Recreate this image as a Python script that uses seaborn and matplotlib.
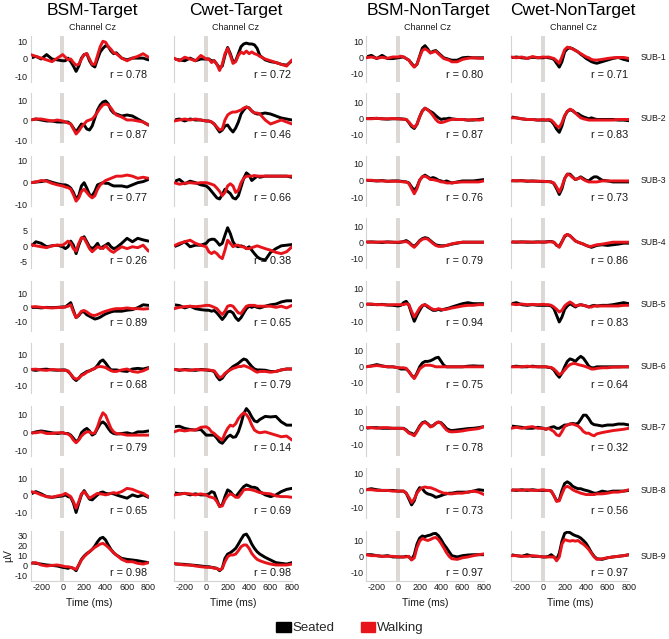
import matplotlib
matplotlib.use("Agg")
import matplotlib.pyplot as plt
import matplotlib.transforms as mtransforms
from matplotlib.patches import Patch
import seaborn as sns

# ---------------- data ----------------
times = [-300, -250, -200, -150, -100, -50, 0,
         25, 50, 75, 100, 125, 150, 175, 200, 225, 250,
         275, 300, 325, 350, 375, 400, 425, 450, 475, 500,
         550, 600, 650, 700, 750, 800]

col_titles = ["BSM-Target", "Cwet-Target", "BSM-NonTarget", "Cwet-NonTarget"]
subjects = ["SUB-1", "SUB-2", "SUB-3", "SUB-4", "SUB-5", "SUB-6", "SUB-7", "SUB-8", "SUB-9"]

r_bsm_t = [0.78, 0.87, 0.77, 0.26, 0.89, 0.68, 0.79, 0.65, 0.98]
r_cwet_t = [0.72, 0.46, 0.66, 0.38, 0.65, 0.79, 0.14, 0.69, 0.98]
r_bsm_n = [0.80, 0.87, 0.76, 0.79, 0.94, 0.75, 0.78, 0.73, 0.97]
r_cwet_n = [0.71, 0.83, 0.73, 0.86, 0.83, 0.64, 0.32, 0.56, 0.97]

# BSM-Target
bsm_t_seat_1 = [0.5,1.5,0,2.5,0,-0.5,-1, -1,0.5,-1.5,-4,-7,-4,0.5,2.5,3,-1, -3.5,-4.5,0,4,6,7.5,7,4.5,3,3.5, 0.5,-0.5,0.5,0.5,0.5,-0.5]
bsm_t_walk_1 = [2.5,1.5,0.5,-0.5,-1.5,0.5,2.5, 1,-0.5,0,-2,-3.5,-3,0,2.5,3,0, -3,-3,2,7,10,9.5,7,5.5,3.5,3, 0.5,-1,0.5,1.5,3,1]
bsm_t_seat_2 = [0,0.5,0,-0.5,-0.5,-1,-1, -1,-1,-2,-4,-6,-4,-2,-2.5,-4.5,-5, -3,1,5,7.5,9,9.5,8,5,3.5,3, 2,2.5,2,0.5,-1,-2.5]
bsm_t_walk_2 = [0,0.5,0.5,0,-0.5,0,-0.5, -1,-1.5,-2,-4.5,-7,-5.5,-3.5,-2,-0.5,0, 0.5,2,4,6,7.5,8,7.5,6,4,2.5, 1.5,0,0,-0.5,-1,-2.5]
bsm_t_seat_3 = [0,0.3,0.5,1,0.2,-0.5,-1, -1,-1.5,-2.5,-4.5,-7.5,-6,-1.5,0,-2.5,-5.5, -6,-4,-1,-0.5,0,-0.3,-0.3,-1,-1.5,-1.5, -1.5,-2,-1,0,0.5,1.5]
bsm_t_walk_3 = [0,0.3,1,0.7,-0.3,-1,-1.5, -2,-2.3,-3,-5.5,-8.5,-7,-4,-3,-4.5,-6, -7,-6,-3,-1,0,1,1.5,2,2.5,3, 3,3.5,3,2,2.5,2]
bsm_t_seat_4 = [-0.2,1.4,0.9,-0.2,0.1,0.3,-0.2, -0.8,-0.2,1.6,0.3,-2.4,0.3,2.5,3,1.4,-0.2, -0.8,-0.2,0.9,-0.7,-0.2,0.3,0.9,-0.2,-0.8,-0.5, 0.9,2.5,1.4,2.5,2,1.6]
bsm_t_walk_4 = [0.5,0.1,-0.2,-0.5,0.1,0.3,0.3, 0.9,1.6,0.9,-0.8,-1.6,0.9,2.7,2.5,0.9,-0.8, -1.8,-1,-0.2,-0.5,-0.8,0.1,-0.8,-1.6,-2,-1.3, -0.2,-0.8,-0.2,-0.5,0.3,-1.6]
bsm_t_seat_5 = [0,0.2,-0.2,0.2,0,0.2,0.5, 0.5,2,3.5,-2,-7,-5.5,-3,-3,-5,-6, -7,-8,-7.5,-6.7,-5.5,-4.4,-3.7,-3,-2.5,-2.5, -2.5,-1.8,-1.4,0,2,1.6]
bsm_t_walk_5 = [0.5,0.7,0.2,0,-0.2,0,0.2, 0.5,1,2,-3,-7,-5,-2.5,-2,-3,-4.4, -5.3,-5.5,-4.8,-4,-3.2,-2.5,-2,-1.4,-1,-0.7, -0.7,-0.2,-0.7,-0.7,-1,-0.7]
bsm_t_seat_6 = [0.2,-0.3,0.3,0.5,0,-0.2,0, 0,-1,-2.8,-5.4,-6.9,-5.4,-3.2,-2.2,-1,-0.6, 0.3,1,3,5.5,6.5,4.5,2,0,0,0, -0.6,-1,0.6,1,0.6,1.5]
bsm_t_walk_6 = [0.3,0.5,0,-0.3,0.3,0,-0.2, -0.3,-0.6,-2.8,-5,-6,-5.4,-3.6,-2.8,-1.5,-0.6, 0.2,1,2,2.2,2,1.5,0.5,-0.5,-1,-1, 0,0.6,-1,-1.5,-0.6,1]
bsm_t_seat_7 = [-0.4,0.5,1,0.5,0,-0.4,0, -0.4,-0.4,-1.3,-3,-5,-3.6,0,1.5,2.4,1, -1.3,-0.4,2.4,5,6,4.7,2.4,0.5,-0.4,-0.7, -0.4,0,-0.7,0.5,0.5,1]
bsm_t_walk_7 = [0,0,0.5,-0.4,-0.4,0,0, -0.4,-0.7,-1.8,-4,-5.5,-4,-1.8,-0.4,0.5,0.5, -0.4,0,3.3,7.8,11,9.6,6,2.4,0.5,-0.4, -0.7,-1.3,-1.3,-1.3,-1.3,-1.3]
bsm_t_seat_8 = [0.8,2.3,1,-0.6,-1,-0.6,-0.2, 0.4,-0.6,-1,-4.4,-9.8,-4.4,0.4,2.9,0.4,-2.1, -2.5,-1,0.4,1.7,2.1,1.3,1,1.3,1,0.4, -0.6,-1.5,0.4,-0.6,0.4,-1]
bsm_t_walk_8 = [2.3,1.7,0.4,-0.6,-1,-0.2,0.4, 1.3,0.4,-0.6,-3.5,-7.3,-3.5,1,2.3,0.4,-1.5, -0.6,0.4,1.3,1,0.8,0.4,0.8,1.3,1.7,1.3, 2.3,4.2,3.6,2.3,1.3,-0.6]
bsm_t_seat_9 = [3,2.3,1.6,0.7,0.3,-0.3,-1.6, -2,-2.6,-1.6,-2.6,-4.9,0.7,6.2,9.5,12,13.7, 16,19.3,23.5,26.8,27.8,25.2,20.3,16,12.7,10.5, 7.2,6.2,5.6,4.9,3.9,3]
bsm_t_walk_9 = [2.3,3,0.7,-0.3,0.3,0.7,-0.3, -1,-1,-1.6,-2.6,-3.6,0.7,5.6,8.8,11.4,13.7, 16,18,19.6,21.2,21.9,20.3,18,15.4,12.7,10.5, 6.2,3.9,3.9,2.3,1.6,3]

# Cwet-Target
cwet_t_seat_1 = [0,-0.5,-1,0.5,-1,0,0, 0,-1,-1,-3,-5,-4,2,6.5,3,-1.5, -1,3,7,8.5,9,8.5,8.5,8,6,2, -0.5,-1.5,-2,-3,-3.5,-1]
cwet_t_walk_1 = [0.5,-1,1,0,-1,2,0, 0,-2,-1,-3,-6.5,-3,3,6,2,-2.5, -1.5,2,4,3,4.5,3,4,3,2.5,1.5, 0,-1,-2,-3,-4,-0.5]
cwet_t_seat_2 = [0,0.5,-0.5,0.5,0,0,-0.5, -0.5,-1,-2,-4,-6,-5,-3,-2.5,-4.5,-6, -4,-1,3,5,6.5,6,4.5,3.5,3,3, 3.5,3,2,1,0.5,0]
cwet_t_walk_2 = [-0.5,0,0.5,0,0.5,0,-0.5, -0.5,-1,-2,-3.5,-5,-4.5,0,2.5,3.5,4, 4,4.5,5,6,6.5,6,4.5,3.5,3.5,3, 0,-2,-1,0,-1,-2]
cwet_t_seat_3 = [0.5,1.5,-0.5,0.7,0,-1,-1.5, -2.5,-4,-5.5,-7,-7.5,-5.5,-3,-4,-5,-7, -7.5,-6,-2,2,4.5,3.5,1,2,3,2.5, 3,3,3,3,3,2.5]
cwet_t_walk_3 = [0,-0.7,-0.3,0,-0.3,0,0, -0.3,-0.7,-1.2,-2.5,-4,-6,-4.5,-1.5,-0.5,-1.5, -4.5,-3.5,0,2,3,3,3,3.3,3,3, 3,3,3,3,3,3]
cwet_t_seat_4 = [-0.2,0.5,1.4,-0.2,0.3,0.3,0.9, 1.9,2.2,2.2,1.4,0.3,0.9,3.5,5.9,4,1.4, 0.1,-0.2,0.1,-0.2,-0.8,-0.2,-1.3,-2.4,-3.4,-4, -4.5,-2,-0.8,0.1,0.3,0.5]
cwet_t_walk_4 = [0.1,0.9,1.4,1.9,0.9,0.3,-0.2, -1.8,-2.4,-1.8,-2.4,-3.4,-4,-1.3,1.9,0.9,-0.2, 0.3,0.3,-0.2,-0.2,-0.8,-0.8,-0.5,-0.2,0.1,-0.2, -0.8,-1.3,-2,-2.4,-1.8,-0.2]
cwet_t_seat_5 = [2,1.5,-0.2,1,-0.7,-1.4,-1.8, -1.8,-2.5,-2,-3.7,-6,-8.3,-6,-3,-2.5,-3.7, -7,-9,-7,-3.7,-0.7,1,0.2,1,0.2,-0.2, 1,2,2.5,4,4.8,4.8]
cwet_t_walk_5 = [-0.7,0.2,0.7,1,0.7,1,1.6, 1.6,1,0.2,-0.7,-3,-4.8,-2.5,1,1.6,1, -1.4,-3.7,-4.1,-1.4,1,1.6,1.6,1.6,1,1, 1,1,0.2,1,-0.2,1.6]
cwet_t_seat_6 = [0.5,-0.3,0.3,0,-0.3,0.3,0, -0.3,-0.5,-1,-4.3,-6.5,-5.4,-2.8,-1,0.6,2.2, 3.2,4.3,5.8,7.1,6.5,4.3,2.2,0.6,0,0, -0.2,-1,-1,0,0.6,0.6]
cwet_t_walk_6 = [0.3,0,0,-0.3,0.3,0,0, 0,-0.3,-0.6,-2.8,-5,-4.3,-2.2,-1,0,1, 1.5,2.2,2.2,2.8,2.2,1.5,0.6,-0.6,-1.5,-1, -1,-1.5,-1,0,0.6,0.6]
cwet_t_seat_7 = [3.3,3.6,2.4,1.8,1.5,1.8,-1.3, -1.3,-1.3,-1.3,-3,-5,-5.8,-4,-2.2,-1.3,-2.5, -2.2,0.5,5,10.5,13.3,11.5,8.7,6.5,6,7.3, 9,8.7,9,6,4.2,4.2]
cwet_t_walk_7 = [0.5,1.5,1,1.5,1.5,3,3.3, 2.4,0.5,-0.4,-1.8,-3,-4,-0.4,2.4,4.2,3.6, 5,7.8,9.6,11,10,7.8,4.2,1.5,0.5,0, 0.5,-0.4,-1.3,-2.2,-1.8,-4]
cwet_t_seat_8 = [1.7,1,1.3,0.4,1,0.4,0.4, 1,2.3,1.7,-2.5,-6.3,-5.4,-0.6,3.3,2.3,0.4, -0.6,1.3,3.3,5.2,6.2,5.6,4.8,4.8,4.2,2.3, 0.4,-0.6,0.4,2.3,3.6,4.2]
cwet_t_walk_8 = [0.4,0.8,1.3,1,0.4,1,0.4, -0.6,-1,-1.5,-3.5,-6.3,-6,-2.5,-0.2,1,0.4, -1,-1,1,3.3,3.6,3.6,3.3,2.9,2.3,1.7, 1.3,1,-0.2,-0.6,-0.6,-1]
cwet_t_seat_9 = [1.6,1.6,1.3,0.7,0.3,-0.3,-1, -1,-1.6,-2,-2.6,-4.9,-2.6,7.2,11.4,12.7,14.7, 17,21.2,25.8,30,31,26.8,21.2,17,13.7,11.4, 8.2,5.6,3,2.3,1.6,3]
cwet_t_walk_9 = [2.3,1.3,0.7,0.7,-0.3,-1,-1.6, -1.6,-1.6,-2.6,-2.6,-4.2,-2.6,3.9,8.8,10.5,10.5, 11.4,14.7,18.6,20.3,20.3,17,12,8.8,6.2,4.9, 3,1.6,0.7,0.7,0.7,1.6]

# BSM-NonTarget
bsm_n_seat_1 = [0.5,1.5,-0.5,1.5,-0.5,-0.5,0, 0.3,0.5,-0.5,-1.5,-3.5,-5.5,-4,1,6,7.5, 5.5,3,4,4.5,3,1.5,0,-0.5,-1,-1.5, -1.5,0,0.3,0,0,0]
bsm_n_walk_1 = [0,0.5,-0.3,0.3,-0.3,0.5,0.5, 1,0.5,-0.5,-1.5,-4,-5.8,-4,0.5,4.5,5.6, 4.5,3,3.5,4,2.5,1,-0.5,-1,-1.5,-2.5, -2.5,-1,-0.3,0,-0.3,-0.3]
bsm_n_seat_2 = [0,0.2,0.3,0,-0.2,0,0, 0,-0.2,-0.4,-2.4,-4.8,-6,-3.4,1.2,5,6.6, 5.6,4.6,3.6,2,0.6,-0.4,0,0,0.4,0, -0.4,-0.4,-0.8,-0.8,-0.4,0]
bsm_n_walk_2 = [0.2,0,0.3,0,0,0.2,0, -0.2,-0.2,-0.4,-2,-4,-5.4,-3.4,1.2,4.6,6.6, 5.6,4,2,-0.4,-2,-2.4,-2,-1.4,-0.8,-0.4, -0.4,-0.4,-0.8,-0.4,-0.8,-0.4]
bsm_n_seat_3 = [0.4,0.2,0,0.2,-0.2,0,0, -0.2,-0.4,-0.6,-1.2,-3.6,-5.6,-3.6,0.4,2.4,3.4, 2.4,1.4,2,1.4,0.4,0,-0.6,0,-0.6,-1.2, -0.6,0,0,0,0.4,0.8]
bsm_n_walk_3 = [0.4,0.4,0,0,-0.2,-0.2,-0.2, -0.4,-0.6,-0.6,-1.6,-4.6,-7.6,-4.6,0.4,2.4,2.8, 2,0.8,0.8,0.4,0,-0.6,-0.6,-1.2,-1.2,-1.2, -0.8,-0.6,-0.6,-0.6,-0.6,0]
bsm_n_seat_4 = [0,0.2,0,-0.2,0.2,0,-0.2, 0,0.4,1,0,-1.6,-2.6,-1,1,2.2,2.8, 2.4,1,-0.4,-1.6,-2,-2.2,-2.2,-2,-1.6,-1.2, -0.6,0,0,0,0,0]
bsm_n_walk_4 = [0.2,0,0,0.2,0,0,0, 0.2,0.2,0.4,-0.4,-2,-3.2,-1.4,0.6,1.8,2.2, 2,0.6,-0.8,-2,-2.6,-2.6,-2.4,-2,-1.6,-1, -0.4,0,0,0,0,0]
bsm_n_seat_5 = [0.4,0.2,0,0.2,-0.2,-0.4,-0.8, -0.4,1.2,2,-0.4,-5.4,-10,-6.4,-3.4,-0.8,0, -1.4,-2.4,-3.4,-3.4,-2.8,-3.4,-2.8,-2.4,-2,-1.4, -0.4,0.6,1.2,0.6,0.6,0.6]
bsm_n_walk_5 = [0.2,0.4,0,0,-0.2,0,0, 0,0,0.6,0,-4,-7.4,-4.8,-2,-0.4,0, -0.8,-2,-2.8,-3,-2.4,-2.8,-3,-2.8,-2.4,-2, -1.4,-0.8,-0.4,-0.4,0,0]
bsm_n_seat_6 = [0,0.6,1.4,0.6,0,0,-0.6, -1.4,-1.4,-1.4,-3,-5.4,-7,-4,0,2.4,3.4, 3.4,3.8,4.6,5.6,6,3.5,1,0,0,0, 0,0,0.4,0.6,0.4,0.4]
bsm_n_walk_6 = [0,0.4,0.8,0.4,0,0,-0.6, -0.6,-0.6,-1,-3,-5.4,-7.4,-4.6,-1.4,0,1, 1,1,0.6,0,0,0,0,0,0,0, 0,0,0,0,0,0]
bsm_n_seat_7 = [-0.4,0,0,-0.4,-0.4,-0.4,-0.4, -0.4,-0.4,-1.4,-3,-3.4,-4.4,-2,1,3,3.6, 2.4,0.8,1.2,2.6,3.4,3,1.4,-0.5,-1.4,-1.8, -1.4,-1,-0.6,-0.4,0,0.6]
bsm_n_walk_7 = [0,0,-0.4,0,0,-0.4,-0.4, -0.4,-0.6,-1.8,-3.4,-4,-5,-2.5,0.5,2.6,3.2, 2.2,0.4,1,2.6,3.4,2.6,0.5,-1.4,-2.4,-2.6, -2.4,-2,-1.4,-1,-0.6,0.6]
bsm_n_seat_8 = [0.4,1,0.4,0,0,0,-0.4, -0.4,-0.4,-1.6,-5,-8.4,-6,-1,1.6,1,-1, -2,-2.4,-3,-4,-3.6,-3,-2.4,-2,-1.6,-1.6, -1,-1,-1,-0.4,0.4,0]
bsm_n_walk_8 = [0.4,0.4,0,0,0,-0.4,-0.4, -0.4,-0.4,-1.6,-4,-7,-5,-1.6,0.4,1.6,2, 1.6,1.6,1,0.4,-0.4,-1,-1.6,-1.6,-2,-2, -1.6,-1.6,-1,-0.4,-1,-2.4]
bsm_n_seat_9 = [1,1,0.4,0,0.4,-0.4,-0.4, -0.4,-0.4,0,-0.4,-2,1,7.5,11.3,12.6,12.2, 12.8,13.2,14,14.2,12.8,10.4,7.5,5.3,2.8,0.4, -0.4,0.4,0.8,1,1,1]
bsm_n_walk_9 = [1,0.4,0.4,0,0,0,-0.4, -0.4,-0.4,-0.4,0,-2.3,-1,5.3,9.4,11,10.4, 9.8,10.4,11.3,11.7,10.4,8,5.3,2.3,0,-1.5, -1.9,-0.9,-0.4,0.4,1,1.5]

# Cwet-NonTarget
cwet_n_seat_1 = [0,0.5,0,-0.3,0.3,0,0, 0.3,0,-0.3,-1,-3.4,-5.8,-2.4,3.6,5.6,6.2, 5.6,4.6,3.6,2.2,1,-0.4,-1.4,-2.4,-3,-3.4, -2.4,-1.4,-0.4,0.2,-1,-1.8]
cwet_n_walk_1 = [0.5,0,0.5,-0.5,0.8,0,0.5, 0.3,0.5,0,-0.4,-1.8,-3.4,0.6,5,6.6,6.2, 5.4,4.6,3.6,2.6,1.6,0.6,0,-1,-1.4,-1.4, -1,-0.4,0,0.2,0.2,-0.4]
cwet_n_seat_2 = [1.2,0.6,0,-0.4,-0.4,-0.8,-0.8, -0.8,-0.8,-1.4,-3.4,-6.4,-8.4,-4.4,1.6,4.6,5.6, 5,3.6,3.2,2,1.2,0.6,0,0.6,0,-0.4, -0.4,-0.4,-0.4,-0.8,-0.8,-1.2]
cwet_n_walk_2 = [0.6,0.6,0,-0.4,-0.4,-0.8,-0.4, -0.8,-0.4,-0.8,-2.4,-4.4,-5.4,-2.4,2,4.6,6, 5.2,3.6,2,0.6,0,-0.4,-0.8,-0.8,-0.8,-0.8, -0.8,-0.8,-0.8,-0.4,-0.4,-0.4]
cwet_n_seat_3 = [0.2,0,0.2,-0.2,0,-0.2,-0.4, -0.4,-0.4,-0.6,-1.6,-4.6,-8,-4.6,1.4,4,4, 2.4,0.8,1.4,2.4,1.4,0.4,0,1.4,2.4,2.4, 0.4,0,-0.6,-0.6,-0.6,-0.6]
cwet_n_walk_3 = [0,0.2,0,0,-0.2,-0.2,-0.2, -0.4,-0.4,-0.6,-1.2,-3.6,-6.6,-3.2,1.4,4,3.4, 2,0.8,1.4,2,0.8,0,-0.6,-0.6,-0.6,-0.6, 0,0,0,0,0,0]
cwet_n_seat_4 = [0.2,0,0.2,0,0,0.2,0, 0.2,0.4,0.4,0,-2,-2.6,0.4,3.4,4.8,4, 2.4,0.8,0,-0.6,-1.2,-2,-2.6,-3.2,-2.6,-2, -1.6,-2,-1.6,-1.2,-0.6,-0.6]
cwet_n_walk_4 = [0,0.2,0,0.2,0,0,0.2, 0,0.2,0.2,0,-1.6,-3.2,0,4,4.8,4, 2.4,0.8,0,-0.6,-1.2,-2,-2.6,-2.6,-2,-1.6, -1.2,-0.6,0,0,0,0]
cwet_n_seat_5 = [0.6,1.2,0,-0.4,0,-0.4,-0.4, -0.4,-0.4,-0.8,-2.4,-6.4,-10.4,-7.4,-2.8,-0.8,0.6, -0.4,-1.4,-0.4,0,-0.4,-0.8,-1.4,-0.8,-0.4,-0.8, -0.4,-0.4,0,0.6,1.2,0.6]
cwet_n_walk_5 = [0.4,0,0.4,0,0.2,0,0.2, 0,0,-0.4,-1.4,-2.8,-4.4,-3.4,-0.8,0.6,1.6, 0.6,-0.8,-0.4,0,-0.4,-0.8,-1.4,-1.4,-0.8,-0.8, -0.8,-0.8,-0.8,-0.8,-0.4,-0.4]
cwet_n_seat_6 = [0,0.4,0,0,0.4,0,0, 0,-0.4,-0.6,-2,-4.6,-6.6,-4,0,3.4,5, 4.4,3.4,5.2,6.6,5.4,3,0.4,-0.6,-0.6,0, 0,0,0,0,0,0]
cwet_n_walk_6 = [0,0,0,0.4,0,0,0, 0,-0.2,-0.4,-1.4,-3,-5,-4,-2,0,1.4, 2,2,1.4,1,0.6,0,-0.6,-1.4,-1.4,-1, -0.6,-0.6,-0.2,-0.2,0,0]
cwet_n_seat_7 = [1,0.6,0.2,-0.4,-0.4,0.2,-0.4, -1,-0.4,0.2,0.6,-0.4,-0.4,0.6,1.6,1.6,2.2, 2.6,2.2,2.6,5,7.6,7.6,5.5,2.8,1.8,1.6, 1,1.6,1.6,2.2,2.2,1.6]
cwet_n_walk_7 = [-0.4,0.2,-0.4,0.2,0.6,-0.4,-0.4, -1,-0.4,-1.4,-2.4,-4.4,-5,-2.4,0.6,1.6,2.2, 2.2,1.6,1,-0.4,-2.4,-3.4,-3.4,-4.4,-5,-3.8, -3,-2.4,-1.8,-1.4,-1,-0.4]
cwet_n_seat_8 = [0.4,0,0.4,0,0.4,0,0, 0,0,-0.4,-3,-6,-5.6,0,4,5,4, 2.4,1.6,1,1,0.4,0,-0.4,-1,-1.6,-1.6, -0.4,-1,-0.4,-0.4,-0.4,0]
cwet_n_walk_8 = [0,0.4,0,0.4,0,0,0.4, 0,0,-0.4,-3,-6.4,-6,-2,1.6,2.4,1.6, 0.4,-0.4,-1,-1.6,-2,-2.4,-2.4,-2.4,-2.4,-2, -2,-1.6,-1,-1,-0.4,0.4]
cwet_n_seat_9 = [1,0.4,0,1,0,0,-0.4, -0.4,0,1,-0.4,-2,1.9,9.4,14.2,15,14.7, 13.6,12.8,12.3,11.3,9.8,8,5.3,2.3,0,-1.5, -1.9,-0.9,-0.4,0,0.4,1]
cwet_n_walk_9 = [0.4,0.4,0,0,0.4,0,-0.4, -0.4,-0.4,-0.4,-0.4,-2.8,-0.4,7.5,10.4,9.8,9.4, 9.8,9.4,9.8,8.5,7.5,6,4.2,1.9,-0.4,-1.9, -1.5,-0.9,-0.4,0,0.4,1]

# ---------------- assembly ----------------
seated = [
    [bsm_t_seat_1, bsm_t_seat_2, bsm_t_seat_3, bsm_t_seat_4, bsm_t_seat_5, bsm_t_seat_6, bsm_t_seat_7, bsm_t_seat_8, bsm_t_seat_9],
    [cwet_t_seat_1, cwet_t_seat_2, cwet_t_seat_3, cwet_t_seat_4, cwet_t_seat_5, cwet_t_seat_6, cwet_t_seat_7, cwet_t_seat_8, cwet_t_seat_9],
    [bsm_n_seat_1, bsm_n_seat_2, bsm_n_seat_3, bsm_n_seat_4, bsm_n_seat_5, bsm_n_seat_6, bsm_n_seat_7, bsm_n_seat_8, bsm_n_seat_9],
    [cwet_n_seat_1, cwet_n_seat_2, cwet_n_seat_3, cwet_n_seat_4, cwet_n_seat_5, cwet_n_seat_6, cwet_n_seat_7, cwet_n_seat_8, cwet_n_seat_9],
]
walking = [
    [bsm_t_walk_1, bsm_t_walk_2, bsm_t_walk_3, bsm_t_walk_4, bsm_t_walk_5, bsm_t_walk_6, bsm_t_walk_7, bsm_t_walk_8, bsm_t_walk_9],
    [cwet_t_walk_1, cwet_t_walk_2, cwet_t_walk_3, cwet_t_walk_4, cwet_t_walk_5, cwet_t_walk_6, cwet_t_walk_7, cwet_t_walk_8, cwet_t_walk_9],
    [bsm_n_walk_1, bsm_n_walk_2, bsm_n_walk_3, bsm_n_walk_4, bsm_n_walk_5, bsm_n_walk_6, bsm_n_walk_7, bsm_n_walk_8, bsm_n_walk_9],
    [cwet_n_walk_1, cwet_n_walk_2, cwet_n_walk_3, cwet_n_walk_4, cwet_n_walk_5, cwet_n_walk_6, cwet_n_walk_7, cwet_n_walk_8, cwet_n_walk_9],
]
r_values = [r_bsm_t, r_cwet_t, r_bsm_n, r_cwet_n]

# ---------------- style / layout ----------------
sns.set_theme(style="white")
plt.rcParams["font.family"] = ["Liberation Sans", "DejaVu Sans"]
plt.rcParams["axes.unicode_minus"] = False

W, H = 669, 639
fig = plt.figure(figsize=(W / 100, H / 100), dpi=100)

RED = "#e8141c"
BAR = "#dbd8d5"
SPINE = "#d4d4d4"
TXT = "#1a1a1a"

col_left = [30.5, 174, 366, 511]
col_w = 118
row_top = [36, 93, 155.5, 218, 280.5, 343, 405.5, 468, 530.5]
row_h = [46, 50, 50, 50, 50, 50, 50, 50, 50]

ylim_target = [(-13, 13), (-11.5, 13.5), (-10.5, 12.5), (-7, 9), (-16, 19),
               (-15, 17.5), (-12.5, 15), (-13, 16), (-14.5, 34.5)]
ylim_nontarget = [(-15, 13.5), (-15, 16), (-14.5, 15), (-16, 15), (-15.5, 14.5),
                  (-16.5, 15), (-17, 13.5), (-16, 13), (-15, 16)]
yticks_target = [[-10, 0, 10]] * 3 + [[-5, 0, 5]] + [[-10, 0, 10]] * 4 + [[-10, 0, 10, 20, 30]]

for c in range(4):
    for r in range(9):
        left = col_left[c]
        top = row_top[r]
        h = row_h[r]
        ax = fig.add_axes([left / W, 1 - (top + h) / H, col_w / W, h / H])
        ax.axvspan(-22, 14, color=BAR, lw=0, zorder=0)
        sns.lineplot(x=times, y=seated[c][r], ax=ax, color="black", linewidth=2.1, zorder=2)
        sns.lineplot(x=times, y=walking[c][r], ax=ax, color=RED, linewidth=2.1, zorder=3)
        ax.set_xlim(-300, 800)
        if c < 2:
            ax.set_ylim(*ylim_target[r])
            ax.set_yticks(yticks_target[r])
        else:
            ax.set_ylim(*ylim_nontarget[r])
            ax.set_yticks([-10, 0, 10])
        ax.set_xticks([-200, 0, 200, 400, 600, 800])
        for s in ["top", "right"]:
            ax.spines[s].set_visible(False)
        ax.spines["left"].set_color(SPINE)
        ax.spines["left"].set_linewidth(0.8)
        ax.spines["bottom"].set_color(SPINE)
        ax.spines["bottom"].set_linewidth(0.8)
        ax.tick_params(axis="both", length=0, labelsize=6.5, colors=TXT, pad=2)
        ax.set_xlabel("")
        ax.set_ylabel("")
        if r < 8:
            ax.spines["bottom"].set_visible(False)
            ax.set_xticklabels([])
        else:
            ax.set_xlabel("Time (ms)", fontsize=7.5, color=TXT, labelpad=4)
        if c in (1, 3):
            ax.set_yticklabels([])
        ax.text(0.99, 0.15, f"r = {r_values[c][r]:.2f}", transform=ax.transAxes,
                ha="right", va="center", fontsize=7.8, color=TXT)
        if c == 0 and r == 8:
            ax.set_ylabel("\u00b5V", fontsize=7.5, color=TXT, labelpad=1)
        if c == 3:
            trans = mtransforms.blended_transform_factory(ax.transAxes, ax.transData)
            ax.text(1.095, 0, subjects[r], transform=trans, ha="left", va="center",
                    fontsize=6.3, color=TXT)

# column titles
for c in range(4):
    cx = (col_left[c] + col_w / 2 + 3) / W
    fig.text(cx, 1 - 11 / H, col_titles[c], ha="center", va="center", fontsize=12.5, color="black")
    fig.text(cx, 1 - 27 / H, "Channel Cz", ha="center", va="center", fontsize=6.5, color=TXT)

handles = [Patch(facecolor="black", edgecolor="black", label="Seated"),
           Patch(facecolor=RED, edgecolor=RED, label="Walking")]
fig.legend(handles=handles, loc="center", bbox_to_anchor=(350 / W, 1 - 628 / H), ncol=2,
           frameon=False, fontsize=9.5, handlelength=1.1, handleheight=0.8,
           handletextpad=0.15, columnspacing=2.0)

fig.savefig("out.png", dpi=100)
